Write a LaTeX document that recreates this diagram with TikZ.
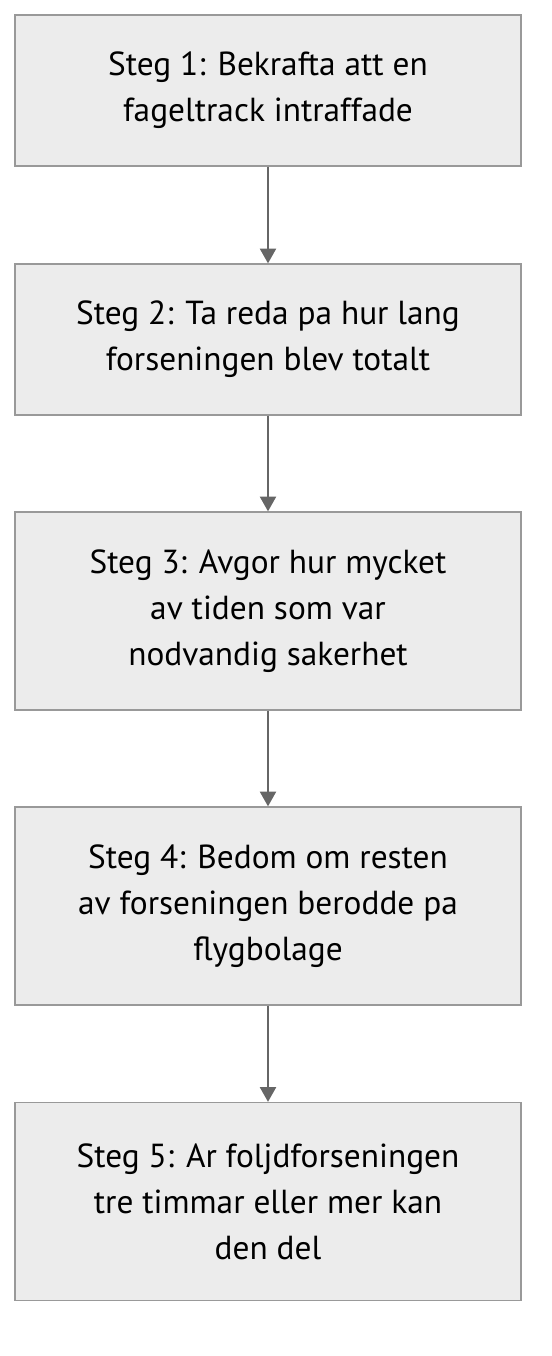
\documentclass[tikz,border=0pt]{standalone}
\usepackage{fontspec}
\setmainfont{PT Sans}
\usepackage{tikz}
\usetikzlibrary{arrows.meta}
\definecolor{boxfill}{HTML}{ECECEC}
\definecolor{boxline}{HTML}{999999}
\definecolor{arrowline}{HTML}{666666}
\tikzset{
    stepbox/.style={draw=boxline, fill=boxfill, line width=1pt, minimum width=379.5pt, minimum height=#1, inner sep=0pt, align=center, font=\fontsize{25}{34.5}\selectfont},
    flow/.style={draw=arrowline, line width=1.5pt, -{Triangle[length=11pt,width=12pt]}}
}
\begin{document}
\begin{tikzpicture}[x=0.75pt,y=-0.75pt]
\useasboundingbox (0,0) rectangle (552,1356);
\foreach \y/\h/\p/\labeltext in {90.5/113.25pt/step1/{Steg 1: Bekrafta att en\\fageltrack intraffade}, 339.5/113.25pt/step2/{Steg 2: Ta reda pa hur lang\\forseningen blev totalt}, 611/148.5pt/step3/{Steg 3: Avgor hur mycket\\av tiden som var\\nodvandig sakerhet}, 906/148.5pt/step4/{Steg 4: Bedom om resten\\av forseningen berodde pa\\flygbolage}, 1201.5/148.5pt/step5/{Steg 5: Ar foljdforseningen\\tre timmar eller mer kan\\den del}}{
    \node[stepbox=\h] (\p) at (268,\y) {\labeltext};
}
\draw[flow] (step1) -- (step2);
\draw[flow] (step2) -- (step3);
\draw[flow] (step3) -- (step4);
\draw[flow] (step4) -- (step5);
\end{tikzpicture}
\end{document}
